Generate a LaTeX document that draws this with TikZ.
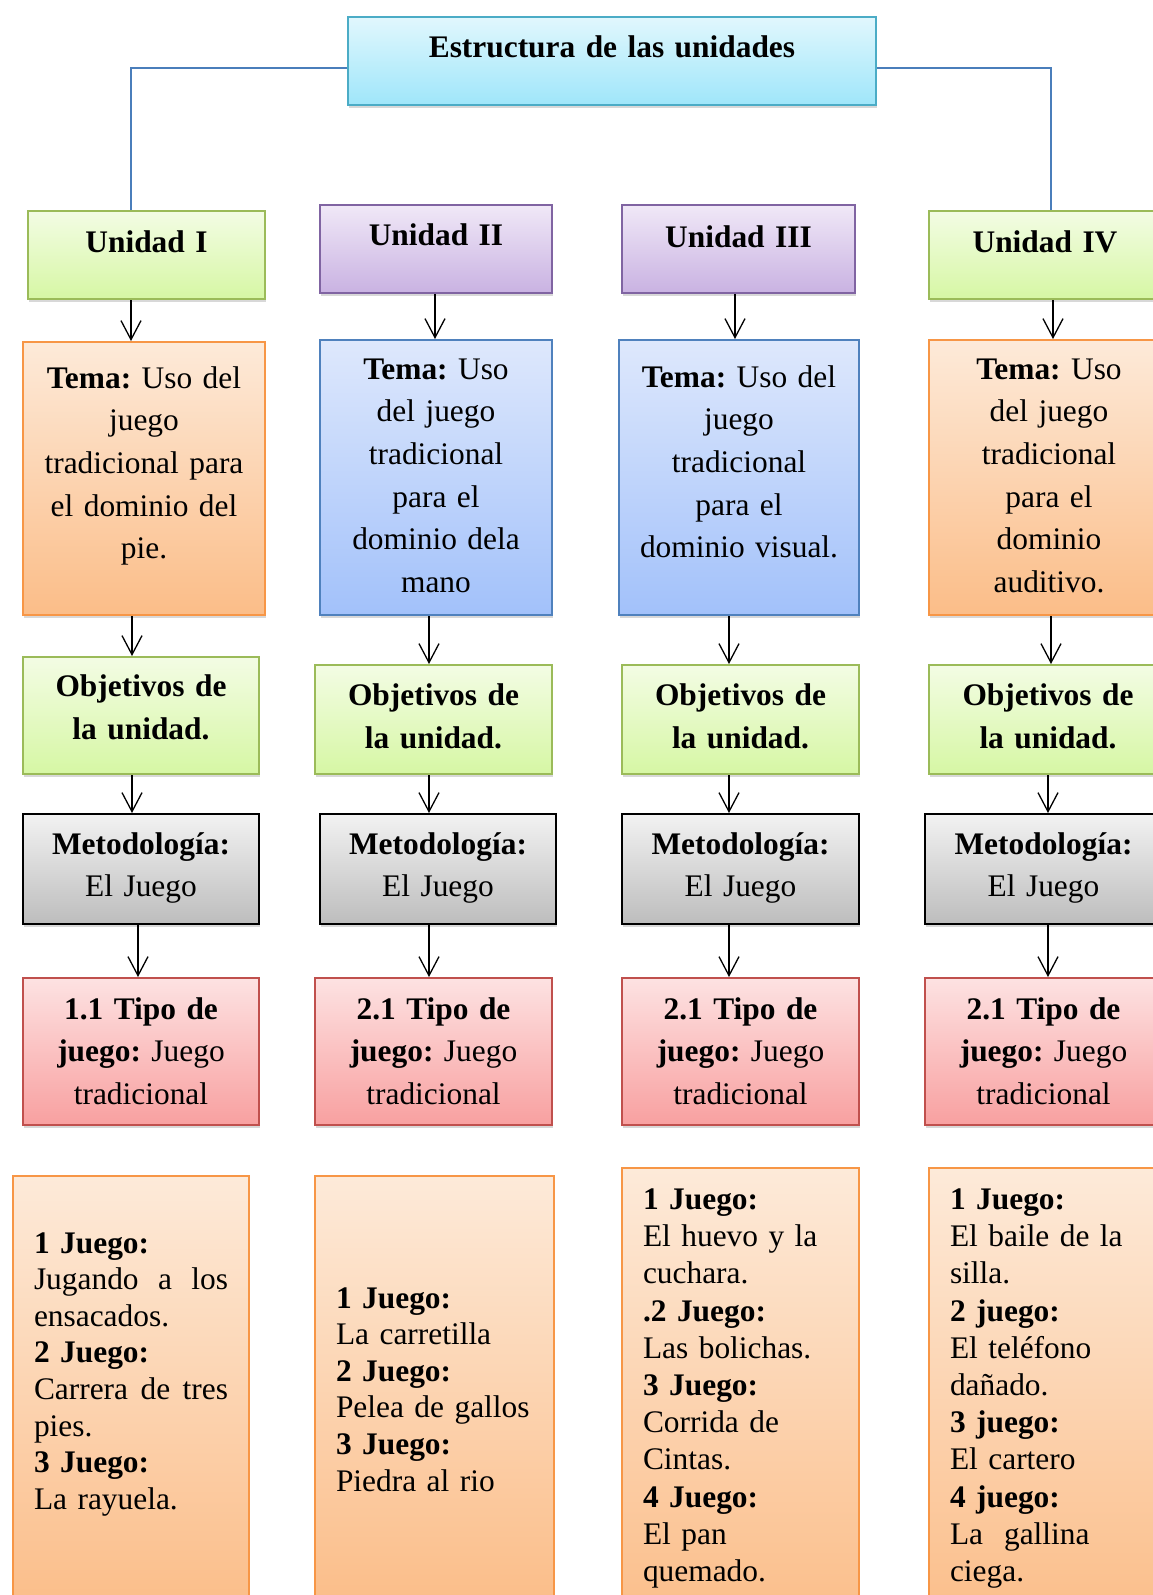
\documentclass[tikz,border=0pt]{standalone}
\usepackage{fontspec}
\setmainfont{Liberation Serif}
\usetikzlibrary{arrows.meta,shadows}
\frenchspacing

\definecolor{cianA}{HTML}{E1F7FD}
\definecolor{cianB}{HTML}{9FE6FA}
\definecolor{cianL}{HTML}{4BACC6}
\definecolor{verdeA}{HTML}{F3FCE4}
\definecolor{verdeB}{HTML}{D6F7A4}
\definecolor{verdeL}{HTML}{9BBB59}
\definecolor{moradoA}{HTML}{F0E8F7}
\definecolor{moradoB}{HTML}{C9B2E2}
\definecolor{moradoL}{HTML}{8064A2}
\definecolor{naranjaA}{HTML}{FDEAD9}
\definecolor{naranjaB}{HTML}{FBBD88}
\definecolor{naranjaL}{HTML}{F79646}
\definecolor{azulA}{HTML}{DEE8FC}
\definecolor{azulB}{HTML}{A2C1FA}
\definecolor{azulL}{HTML}{4F81BD}
\definecolor{grisA}{HTML}{F2F2F2}
\definecolor{grisB}{HTML}{BDBDBD}
\definecolor{rojoA}{HTML}{FDE2E2}
\definecolor{rojoB}{HTML}{F8A0A0}
\definecolor{rojoL}{HTML}{C0504D}
\definecolor{lineaazul}{HTML}{4A7EBB}

\tikzset{
  caja/.style={draw, line width=2pt, anchor=north west, inner sep=0pt, align=center,
    font=\fontsize{31.4}{42.7}\selectfont,
    drop shadow={shadow xshift=1pt, shadow yshift=-3pt, opacity=.22, fill=black!70}},
  titulo/.style={caja, draw=cianL, top color=cianA, bottom color=cianB},
  verde/.style={caja, draw=verdeL, top color=verdeA, bottom color=verdeB},
  morado/.style={caja, draw=moradoL, top color=moradoA, bottom color=moradoB},
  naranja/.style={caja, draw=naranjaL, top color=naranjaA, bottom color=naranjaB},
  azul/.style={caja, draw=azulL, top color=azulA, bottom color=azulB},
  gris/.style={caja, draw=black, top color=grisA, bottom color=grisB},
  rojo/.style={caja, draw=rojoL, top color=rojoA, bottom color=rojoB},
  juegos/.style={naranja, align=left, inner xsep=21pt, font=\fontsize{31.4}{36.6}\selectfont},
  flecha/.style={-{Straight Barb[length=19pt,width=20pt]}, line width=1.3pt},
  enlace/.style={draw=lineaazul, line width=1.8pt}
}

\begin{document}
\begin{tikzpicture}[x=1pt,y=-1pt]
    \useasboundingbox (0,0) rectangle (1153,1595);
    \clip (0,0) rectangle (1153,1595);

    \node[titulo, text width=528pt, text height=40.5pt, text depth=47.5pt] (tit) at (347,16) {\textbf{Estructura de las unidades}};

    % unidad I
    \node[verde, text width=237pt, text height=41pt, text depth=47pt] (u1) at (27,210) {\textbf{Unidad I}};
    \node[naranja, text width=242pt, text height=46pt, text depth=227pt] (t1) at (22,341) {\textbf{Tema:} Uso del\\juego\\tradicional para\\el dominio del\\pie.};
    \node[verde, text width=236pt, text height=39.5pt, text depth=77.5pt] (o1) at (22,656) {\textbf{Objetivos de}\\\textbf{la unidad.}};
    \node[gris, text width=236pt, text height=40pt, text depth=70pt] (m1) at (22,813) {\textbf{Metodología:}\\El Juego};
    \node[rojo, text width=236pt, text height=41pt, text depth=106pt] (p1) at (22,977) {\textbf{1.1 Tipo de}\\\textbf{juego:} Juego\\tradicional};
    \node[juegos, text width=194pt, text height=77pt, text depth=360pt] (j1) at (12,1175) {\textbf{1 Juego:}\\Jugando\hfill a\hfill los\\ensacados.\\\textbf{2 Juego:}\\Carrera\hfill de\hfill tres\\pies.\\\textbf{3 Juego:}\\\mbox{La rayuela.}};

    % unidad II
    \node[morado, text width=232pt, text height=40.6pt, text depth=47.4pt] (u2) at (319,204) {\textbf{Unidad II}};
    \node[azul, text width=232pt, text height=39pt, text depth=236pt] (t2) at (319,339) {\textbf{Tema:} Uso\\del juego\\tradicional\\para el\\dominio dela\\mano};
    \node[verde, text width=237pt, text height=40.5pt, text depth=68.5pt] (o2) at (314,664) {\textbf{Objetivos de}\\\textbf{la unidad.}};
    \node[gris, text width=236pt, text height=40pt, text depth=70pt] (m2) at (319,813) {\textbf{Metodología:}\\El Juego};
    \node[rojo, text width=237pt, text height=41pt, text depth=106pt] (p2) at (314,977) {\textbf{2.1 Tipo de}\\\textbf{juego:} Juego\\tradicional};
    \node[juegos, text width=197pt, text height=132pt, text depth=300pt] (j2) at (314,1175) {\textbf{1 Juego:}\\\mbox{La carretilla}\\\textbf{2 Juego:}\\\mbox{Pelea de gallos}\\\textbf{3 Juego:}\\\mbox{Piedra al rio}};

    % unidad III
    \node[morado, text width=233pt, text height=42.6pt, text depth=45.4pt] (u3) at (621,204) {\textbf{Unidad III}};
    \node[azul, text width=240pt, text height=47pt, text depth=228pt] (t3) at (618,339) {\textbf{Tema:} Uso del\\juego\\tradicional\\para el\\dominio visual.};
    \node[verde, text width=237pt, text height=40.5pt, text depth=68.5pt] (o3) at (621,664) {\textbf{Objetivos de}\\\textbf{la unidad.}};
    \node[gris, text width=237pt, text height=40pt, text depth=70pt] (m3) at (621,813) {\textbf{Metodología:}\\El Juego};
    \node[rojo, text width=237pt, text height=41pt, text depth=106pt] (p3) at (621,977) {\textbf{2.1 Tipo de}\\\textbf{juego:} Juego\\tradicional};
    \node[juegos, font=\fontsize{31.4}{37.2}\selectfont, text width=195pt, text height=41.5pt, text depth=420pt] (j3) at (621,1167) {\textbf{1 Juego:}\\\mbox{El huevo y la}\\cuchara.\\\textbf{.2 Juego:}\\\mbox{Las bolichas.}\\\textbf{3 Juego:}\\\mbox{Corrida de}\\Cintas.\\\textbf{4 Juego:}\\\mbox{El pan}\\quemado.};

    % unidad IV
    \node[verde, text width=232pt, text height=41pt, text depth=47pt] (u4) at (928,210) {\textbf{Unidad IV}};
    \node[naranja, text width=240pt, text height=39pt, text depth=236pt] (t4) at (928,339) {\textbf{Tema:} Uso\\del juego\\tradicional\\para el\\dominio\\auditivo.};
    \node[verde, text width=238pt, text height=40.5pt, text depth=68.5pt] (o4) at (928,664) {\textbf{Objetivos de}\\\textbf{la unidad.}};
    \node[gris, text width=237pt, text height=40pt, text depth=70pt] (m4) at (924,813) {\textbf{Metodología:}\\El Juego};
    \node[rojo, text width=237pt, text height=41pt, text depth=106pt] (p4) at (924,977) {\textbf{2.1 Tipo de}\\\textbf{juego:} Juego\\tradicional};
    \node[juegos, font=\fontsize{31.4}{37.2}\selectfont, text width=195pt, text height=41.5pt, text depth=420pt] (j4) at (928,1167) {\textbf{1 Juego:}\\\mbox{El baile de la}\\silla.\\\textbf{2 juego:}\\\mbox{El teléfono}\\dañado.\\\textbf{3 juego:}\\\mbox{El cartero}\\\textbf{4 juego:}\\\mbox{La\ \ gallina}\\ciega.};

    % lineas del titulo
    \draw[enlace] ([yshift=-7pt]tit.west) -| ([xshift=-15.5pt]u1.north);
    \draw[enlace] ([yshift=-7pt]tit.east) -| ([xshift=6pt]u4.north);

    % flechas
    \draw[flecha] ([xshift=-15.5pt]u1.south) -- ([xshift=-15.5pt]u1.south |- t1.north);
    \draw[flecha] ([xshift=-12pt]t1.south) -- ([xshift=-12pt]t1.south |- o1.north);
    \draw[flecha] ([xshift=-9pt]o1.south) -- ([xshift=-9pt]o1.south |- m1.north);
    \draw[flecha] ([xshift=-3pt]m1.south) -- ([xshift=-3pt]m1.south |- p1.north);

    \draw[flecha] ([xshift=-1pt]u2.south) -- ([xshift=-1pt]u2.south |- t2.north);
    \draw[flecha] ([xshift=-7pt]t2.south) -- ([xshift=-7pt]t2.south |- o2.north);
    \draw[flecha] ([xshift=-4.5pt]o2.south) -- ([xshift=-4.5pt]o2.south |- m2.north);
    \draw[flecha] ([xshift=-9pt]m2.south) -- ([xshift=-9pt]m2.south |- p2.north);

    \draw[flecha] ([xshift=-3.5pt]u3.south) -- ([xshift=-3.5pt]u3.south |- t3.north);
    \draw[flecha] ([xshift=-10pt]t3.south) -- ([xshift=-10pt]t3.south |- o3.north);
    \draw[flecha] ([xshift=-11.5pt]o3.south) -- ([xshift=-11.5pt]o3.south |- m3.north);
    \draw[flecha] ([xshift=-11.5pt]m3.south) -- ([xshift=-11.5pt]m3.south |- p3.north);

    \draw[flecha] ([xshift=8pt]u4.south) -- ([xshift=8pt]u4.south |- t4.north);
    \draw[flecha] ([xshift=2pt]t4.south) -- ([xshift=2pt]t4.south |- o4.north);
    \draw[flecha] ([xshift=0pt]o4.south) -- ([xshift=0pt]o4.south |- m4.north);
    \draw[flecha] ([xshift=4.5pt]m4.south) -- ([xshift=4.5pt]m4.south |- p4.north);
\end{tikzpicture}
\end{document}
